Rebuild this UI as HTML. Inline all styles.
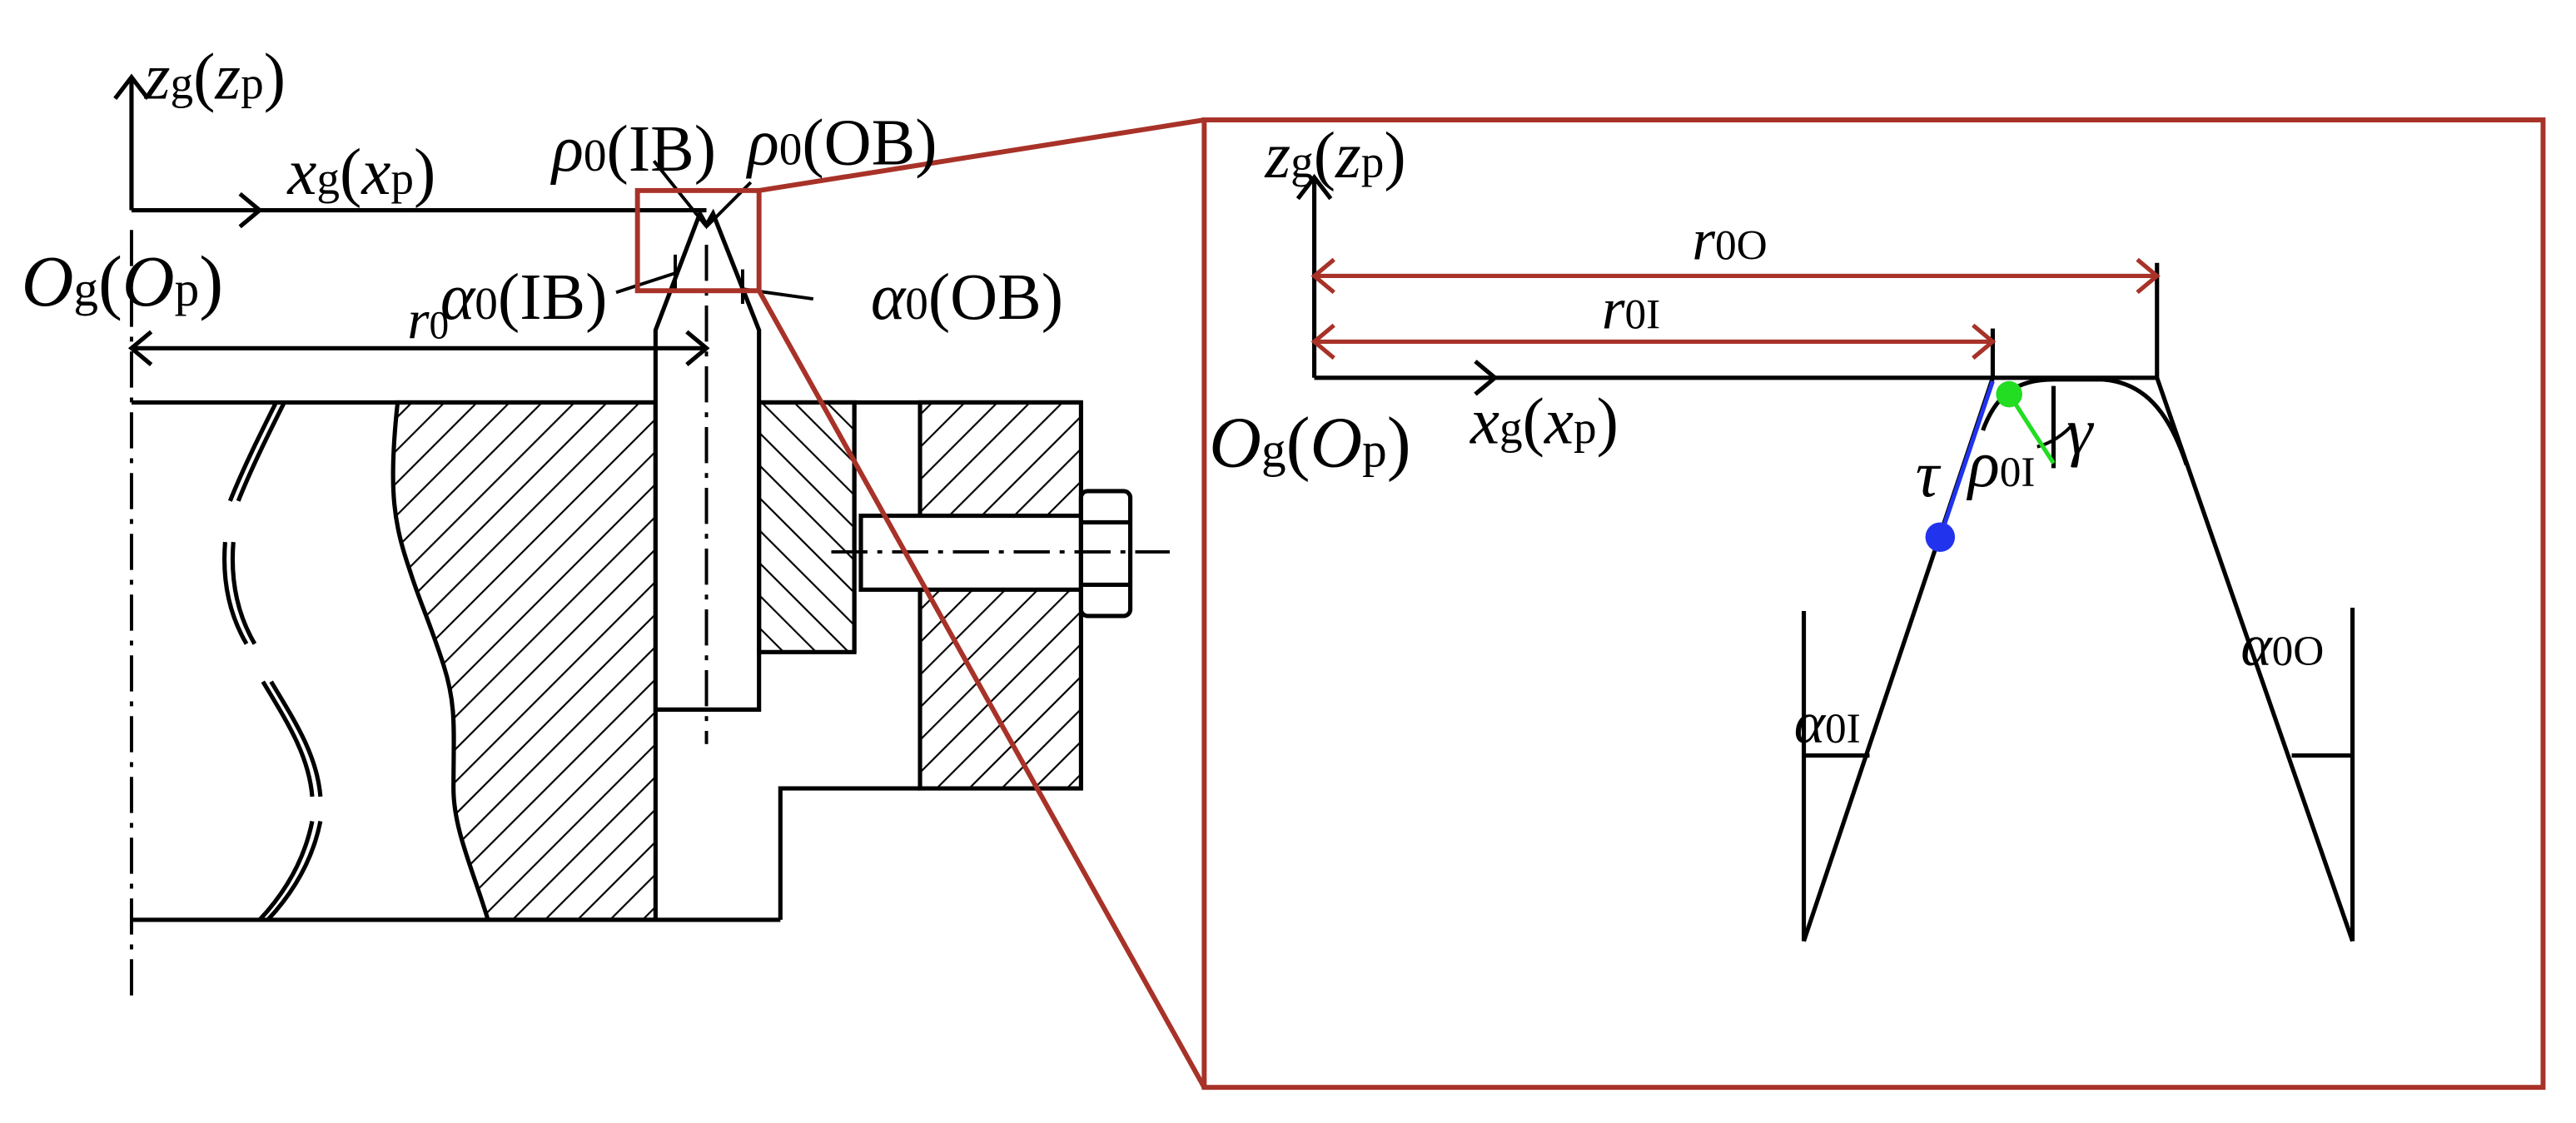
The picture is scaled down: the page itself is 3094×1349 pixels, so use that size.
<!DOCTYPE html>
<html><head><meta charset="utf-8"><style>html,body{margin:0;padding:0;background:#fff}svg{display:block}
text{font-family:"Liberation Serif",serif;fill:#000}
.i{font-style:italic}
</style></head><body>
<svg width="3094" height="1349" viewBox="0 0 1568 683.7" xmlns="http://www.w3.org/2000/svg">
<defs>
<pattern id="h1" patternUnits="userSpaceOnUse" width="14" height="14" patternTransform="rotate(45)"><line x1="0" y1="0" x2="0" y2="14" stroke="#000" stroke-width="2.2"/></pattern>
<pattern id="h2" patternUnits="userSpaceOnUse" width="14" height="14" patternTransform="rotate(-45)"><line x1="0" y1="0" x2="0" y2="14" stroke="#000" stroke-width="2.2"/></pattern>
</defs>
<g fill="none" stroke="#000" stroke-width="2.6">
<line x1="80" y1="128" x2="80" y2="47"/><polyline points="70,60 80,47 90,60"/>
<line x1="80" y1="128" x2="430" y2="128"/><polyline points="146,118 158,128 146,138"/>
<line x1="80" y1="140" x2="80" y2="606" stroke-width="2" stroke-dasharray="22,6,3,6"/>
<path d="M242,245 L399,245 L399,560 L297,560 C288,530 276,505 276,480 C276,445 278,430 270,405 C262,380 255,365 250,349 C240,320 236,300 242,245 Z" fill="url(#h1)"/>
<line x1="80" y1="245" x2="399" y2="245"/>
<line x1="80" y1="560" x2="475" y2="560"/>
<polyline points="475,560 475,480 560,480"/>
<path d="M399,432 L399,201 L426,130 L430,137 L434,130 L462,201 L462,432 Z" fill="#fff"/>
<line x1="430" y1="149" x2="430" y2="453" stroke-width="2" stroke-dasharray="22,6,3,6"/>
<line x1="80" y1="212" x2="430" y2="212"/><polyline points="92,202 80,212 92,222"/><polyline points="418,202 430,212 418,222"/>
<rect x="462" y="245" width="58" height="152" fill="url(#h2)"/>
<line x1="462" y1="245" x2="658" y2="245"/>
<line x1="520" y1="245" x2="520" y2="397"/>
<rect x="560" y="245" width="98" height="235" fill="url(#h1)"/>
<rect x="524" y="314" width="134" height="45" fill="#fff"/>
<rect x="658" y="299" width="30" height="76" rx="4" fill="#fff"/>
<line x1="658" y1="318" x2="688" y2="318"/><line x1="658" y1="356" x2="688" y2="356"/>
<line x1="506" y1="336" x2="712" y2="336" stroke-width="2" stroke-dasharray="22,6,3,6"/>
<path d="M168,245 C158,265 148,285 140,305"/><path d="M173,245 C163,265 153,285 145,305"/>
<path d="M137,330 C135,355 140,375 150,392"/><path d="M142,330 C140,355 145,375 155,392"/>
<path d="M160,415 C175,440 188,460 190,485"/><path d="M165,415 C180,440 193,460 195,485"/>
<path d="M190,500 C185,525 172,545 158,560"/><path d="M195,500 C190,525 177,545 163,560"/>
<line x1="398" y1="98" x2="430" y2="138" stroke-width="2"/><line x1="457" y1="111" x2="430" y2="138" stroke-width="2"/>
<line x1="375" y1="178" x2="412" y2="166" stroke-width="2"/><line x1="411" y1="155" x2="411" y2="178" stroke-width="2"/>
<line x1="452" y1="176" x2="495" y2="182" stroke-width="2"/><line x1="452" y1="164" x2="452" y2="185" stroke-width="2"/>
</g>
<g fill="none" stroke="#a83228" stroke-width="3">
<rect x="388" y="116" width="74" height="61"/>
<line x1="462" y1="116" x2="733" y2="73"/><line x1="462" y1="177" x2="733" y2="662"/>
<rect x="733" y="73" width="815" height="589"/>
</g>
<g fill="none" stroke="#000" stroke-width="2.6">
<line x1="800" y1="230" x2="800" y2="108"/><polyline points="790,121 800,108 810,121"/>
<line x1="800" y1="230" x2="1313" y2="230"/><polyline points="898,220 910,230 898,240"/>
<line x1="1313" y1="160" x2="1313" y2="230"/><line x1="1213" y1="200" x2="1213" y2="230"/>
<line x1="1213" y1="230" x2="1098" y2="573"/>
<line x1="1313" y1="230" x2="1432" y2="573"/>
<path d="M1207,262 C1215,240 1228,231 1250,231 L1280,231 C1305,233 1320,250 1331,283"/>
<line x1="1250" y1="235" x2="1250" y2="285"/>
<path d="M1240,272 C1248,270 1256,265 1262,258" stroke-width="2"/>
<line x1="1098" y1="372" x2="1098" y2="573"/><line x1="1098" y1="460" x2="1138" y2="460"/>
<line x1="1432" y1="370" x2="1432" y2="573"/><line x1="1395" y1="460" x2="1432" y2="460"/>
</g>
<g stroke="#a83228" stroke-width="2.6" fill="none">
<line x1="800" y1="168" x2="1313" y2="168"/><polyline points="812,158 800,168 812,178"/><polyline points="1301,158 1313,168 1301,178"/>
<line x1="800" y1="208" x2="1213" y2="208"/><polyline points="812,198 800,208 812,218"/><polyline points="1201,198 1213,208 1201,218"/>
</g>
<line x1="1213" y1="232" x2="1181" y2="327" stroke="#2233ee" stroke-width="2.6"/>
<circle cx="1181" cy="327" r="9" fill="#2233ee"/>
<line x1="1223" y1="240" x2="1250" y2="282" stroke="#22dd22" stroke-width="2.6"/>
<circle cx="1223" cy="240" r="8" fill="#22dd22"/>
<g font-size="40">
<text x="88" y="60"><tspan class="i">z</tspan><tspan font-size="28">g</tspan>(<tspan class="i">z</tspan><tspan font-size="28">p</tspan>)</text>
<text x="175" y="118"><tspan class="i">x</tspan><tspan font-size="28">g</tspan>(<tspan class="i">x</tspan><tspan font-size="28">p</tspan>)</text>
<text x="13" y="186" font-size="44"><tspan class="i">O</tspan><tspan font-size="30">g</tspan>(<tspan class="i">O</tspan><tspan font-size="30">p</tspan>)</text>
<text x="336" y="104"><tspan class="i">ρ</tspan><tspan font-size="28">0</tspan>(IB)</text>
<text x="455" y="100"><tspan class="i">ρ</tspan><tspan font-size="28">0</tspan>(OB)</text>
<text x="268" y="194"><tspan class="i">α</tspan><tspan font-size="28">0</tspan>(IB)</text>
<text x="530" y="194"><tspan class="i">α</tspan><tspan font-size="28">0</tspan>(OB)</text>
<text x="248" y="206" font-size="34"><tspan class="i">r</tspan><tspan font-size="24">0</tspan></text>
<text x="770" y="108"><tspan class="i">z</tspan><tspan font-size="28">g</tspan>(<tspan class="i">z</tspan><tspan font-size="28">p</tspan>)</text>
<text x="1030" y="158" font-size="36"><tspan class="i">r</tspan><tspan font-size="26">0O</tspan></text>
<text x="975" y="200" font-size="36"><tspan class="i">r</tspan><tspan font-size="26">0I</tspan></text>
<text x="895" y="270"><tspan class="i">x</tspan><tspan font-size="28">g</tspan>(<tspan class="i">x</tspan><tspan font-size="28">p</tspan>)</text>
<text x="736" y="284" font-size="44"><tspan class="i">O</tspan><tspan font-size="30">g</tspan>(<tspan class="i">O</tspan><tspan font-size="30">p</tspan>)</text>
<text x="1166" y="302" class="i">τ</text>
<text x="1198" y="296"><tspan class="i">ρ</tspan><tspan font-size="26">0I</tspan></text>
<text x="1258" y="276" class="i">γ</text>
<text x="1092" y="452" font-size="36"><tspan class="i">α</tspan><tspan font-size="26">0I</tspan></text>
<text x="1364" y="405" font-size="36"><tspan class="i">α</tspan><tspan font-size="26">0O</tspan></text>
</g>
</svg>
</body></html>
